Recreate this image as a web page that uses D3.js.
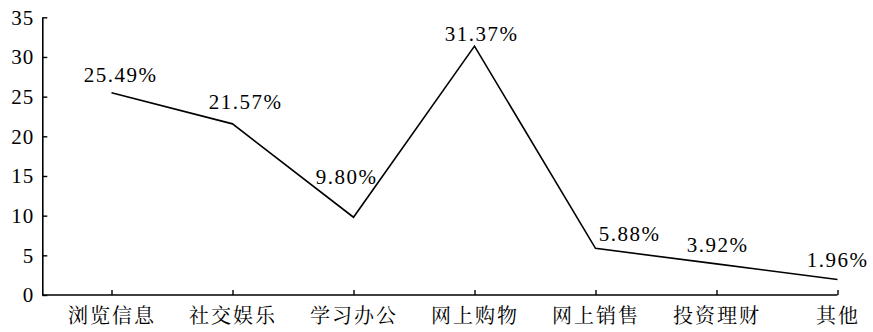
<!DOCTYPE html>
<html><head><meta charset="utf-8">
<script src="https://cdn.jsdelivr.net/npm/d3@7"></script>
<style>
body{margin:0;background:#fff;}
svg{display:block;}
</style></head>
<body><svg id="c" width="873" height="332"></svg>
<script>
const categories = ["浏览信息","社交娱乐","学习办公","网上购物","网上销售","投资理财","其他"];
const values = [25.49, 21.57, 9.80, 31.37, 5.88, 3.92, 1.96];
const valueLabels = ["25.49%","21.57%","9.80%","31.37%","5.88%","3.92%","1.96%"];
const yTicks = [0,5,10,15,20,25,30,35];
// label nudges (layout only)
const labelDx = [9, 13, -7, 7, 34, 1, 0];
const labelDy = [-10.5, -14.7, -33, -5, -7, -12, -12];

const SERIF = '"Liberation Serif"';
const CJK = '"Noto Serif CJK SC"';

const svg = d3.select("#c");
const x = d3.scalePoint().domain(categories).range([111.5, 837.5]);
const y = d3.scaleLinear().domain([0,35]).range([295, 17.3]);
const left = 42.3;

// y axis
const ya = svg.append("g").attr("transform",`translate(${left},0)`)
  .call(d3.axisLeft(y).tickValues(yTicks).tickSizeInner(-5).tickSizeOuter(0).tickPadding(10));
ya.select(".domain").attr("stroke","#000").attr("stroke-width",1.6);
ya.selectAll(".tick line").attr("stroke","#000").attr("stroke-width",1.4);
ya.selectAll(".tick text").style("font-family",SERIF).style("font-size","21px")
  .style("letter-spacing","1px").attr("fill","#000").attr("dx", 2);

// x axis
const xa = svg.append("g").attr("transform",`translate(0,295)`)
  .call(d3.axisBottom(x).tickSizeInner(-5).tickSizeOuter(0).tickPadding(14));
xa.select(".domain").attr("d",`M${left},0H${x(categories[categories.length-1])}`)
  .attr("stroke","#000").attr("stroke-width",1.6);
xa.selectAll(".tick line").attr("stroke","#000").attr("stroke-width",1.4);
xa.selectAll(".tick text").style("font-family",CJK).style("font-size","20px")
  .style("letter-spacing","2px").attr("fill","#000").attr("dy","0.71em");

// line
const line = d3.line().x((d,i)=>x(categories[i])).y(d=>y(d));
svg.append("path").datum(values).attr("d",line)
  .attr("fill","none").attr("stroke","#000").attr("stroke-width",1.6);

// labels
svg.append("g").selectAll("text").data(values).join("text")
  .attr("x",(d,i)=>x(categories[i])+labelDx[i])
  .attr("y",(d,i)=>y(d)+labelDy[i])
  .attr("text-anchor","middle")
  .style("font-family",SERIF)
  .style("font-size","21px")
  .style("letter-spacing","1.5px").attr("fill","#000")
  .text((d,i)=>valueLabels[i]);
</script></body></html>
